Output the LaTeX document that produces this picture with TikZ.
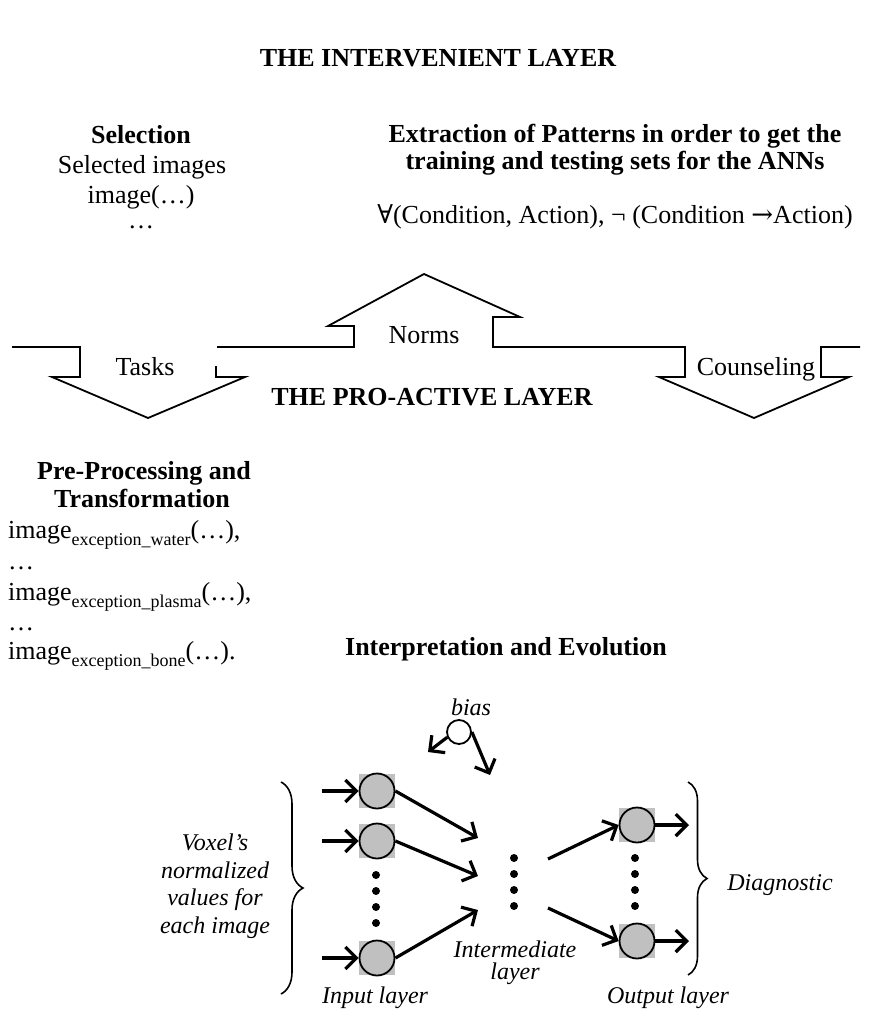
\documentclass[tikz,border=0pt]{standalone}
\usepackage{fontspec}
\setmainfont{Liberation Serif}
\newfontfamily\symf{DejaVu Serif}
\usetikzlibrary{arrows.meta,decorations.pathreplacing}
\definecolor{nodegray}{RGB}{192,192,192}
\newcommand\fa{\fontsize{26}{30}\selectfont}
\newcommand\fb{\fontsize{24}{28}\selectfont\itshape}
\newcommand\sbs[1]{\raisebox{-0.28em}{\fontsize{18}{20}\selectfont #1}}
\begin{document}
\begin{tikzpicture}[x=1pt,y=-1pt,
  txt/.style={font=\fa, inner sep=0pt, anchor=base},
  btxt/.style={font=\fa\bfseries, inner sep=0pt, anchor=base},
  itxt/.style={font=\fb, inner sep=0pt, anchor=base},
  outline/.style={line width=1.8pt, line join=miter},
  conn/.style={line width=3.2pt, -{Straight Barb[length=11pt,width=22pt]}},
  nsq/.style={fill=nodegray, minimum width=36pt, minimum height=34pt, inner sep=0pt},
  ncirc/.style={circle, draw, line width=1.8pt, fill=nodegray, minimum size=35pt, inner sep=0pt},
  dotn/.style={circle, fill=black, minimum size=8pt, inner sep=0pt},
  curly/.style={decorate, decoration={brace, amplitude=#1}, line width=1.6pt}]
\useasboundingbox (0,0) rectangle (871,1009);

% titles
\node[btxt] (title) at (438,66) {THE INTERVENIENT LAYER};
\node[btxt] (sel1) at (141,143) {Selection};
\node[txt] (sel2) at (142,173) {Selected images};
\node[txt] (sel3) at (141,203) {image(…)};
\node[txt] (sel4) at (141,228) {…};
\node[btxt] (ext1) at (615,142) {Extraction of Patterns in order to get the};
\node[btxt] (ext2) at (615,169) {training and testing sets for the ANNs};
\node[txt] (ext3) at (615,223) {{\symf ∀}(Condition, Action), ¬ (Condition {\symf →}Action)};

% block arrows
\draw[outline] (12,347) -- (80,347) -- (80,377) -- (52,377) -- (148,418) -- (245,377) -- (216,377) -- (216,366);
\draw[outline] (217,347) -- (354,347) -- (354,326) -- (328,326) -- (424,274) -- (520,317) -- (493,317) -- (493,347)
  -- (685,347) -- (685,377) -- (659,377) -- (754,418) -- (849,377) -- (821,377) -- (821,347) -- (860,347);
\node[txt] (tasks) at (145,375) {Tasks};
\node[txt] (norms) at (424,343) {Norms};
\node[txt] (couns) at (756,375) {Counseling};
\node[btxt] (proact) at (432,405) {THE PRO-ACTIVE LAYER};

% pre-processing
\node[btxt] (pre1) at (144,479) {Pre-Processing and};
\node[btxt] (pre2) at (142,507) {Transformation};
\node[txt, anchor=base west] (pw) at (8,538) {image\sbs{exception\_water}(…),};
\node[txt, anchor=base west] (pd1) at (8,569) {…};
\node[txt, anchor=base west] (pp) at (8,600) {image\sbs{exception\_plasma}(…),};
\node[txt, anchor=base west] (pd2) at (8,630) {…};
\node[txt, anchor=base west] (pb) at (8,659) {image\sbs{exception\_bone}(…).};
\node[btxt] (interp) at (506,655) {Interpretation and Evolution};

% neural network
\node[nsq] (s1) at (377,791) {};
\node[nsq] (s2) at (377,841) {};
\node[nsq] (s3) at (377,958) {};
\node[nsq] (s4) at (637,825) {};
\node[nsq] (s5) at (637,941) {};
\node[ncirc] (n1) at (377,791) {};
\node[ncirc] (n2) at (377,841) {};
\node[ncirc] (n3) at (377,958) {};
\node[ncirc] (o1) at (637,825) {};
\node[ncirc] (o2) at (637,941) {};

\foreach \y [count=\i] in {875,891,907,923} \node[dotn] (di\i) at (376,\y) {};
\foreach \y [count=\i] in {858,874,890,906} \node[dotn] (dh\i) at (514,\y) {};
\foreach \y [count=\i] in {858,874,890,906} \node[dotn] (do\i) at (635,\y) {};

\coordinate (a1) at (322,791);
\coordinate (a2) at (322,841);
\coordinate (a3) at (322,958);
\coordinate (h1) at (478,838);
\coordinate (h2) at (478,876);
\coordinate (h3) at (478,910);
\coordinate (g1) at (548,859);
\coordinate (g2) at (548,908);
\coordinate (q1) at (689,825);
\coordinate (q2) at (689,941);

\draw[conn] (a1) -- (n1);
\draw[conn] (a2) -- (n2);
\draw[conn] (a3) -- (n3);
\draw[conn] (n1.east) -- (h1);
\draw[conn] (n2.east) -- (h2);
\draw[conn] (n3.east) -- (h3);
\draw[conn] (g1) -- (o1.west);
\draw[conn] (g2) -- (o2.west);
\draw[conn] (o1.east) -- (q1);
\draw[conn] (o2.east) -- (q2);

% bias
\node[circle, draw, line width=1.8pt, minimum size=24pt, inner sep=0pt, fill=white] (bias) at (459,732) {};
\node[itxt] (biast) at (471,715) {bias};
\coordinate (bl) at (428,752);
\coordinate (br) at (490,775);
\draw[conn] (bias.204) -- (bl);
\draw[conn] (bias.east) -- (br);

% braces
\draw[curly=22] (281,782) -- (281,994);
\draw[curly=19] (688,782) -- (688,975);

% labels
\node[itxt] (v1) at (215,850) {Voxel’s};
\node[itxt] (v2) at (215,878) {normalized};
\node[itxt] (v3) at (215,905) {values for};
\node[itxt] (v4) at (215,933) {each image};
\node[itxt] (inl) at (375,1003) {Input layer};
\node[itxt] (im1) at (515,957) {Intermediate};
\node[itxt] (im2) at (515,979) {layer};
\node[itxt] (outl) at (668,1003) {Output layer};
\node[itxt] (diag) at (780,890) {Diagnostic};
\end{tikzpicture}
\end{document}
